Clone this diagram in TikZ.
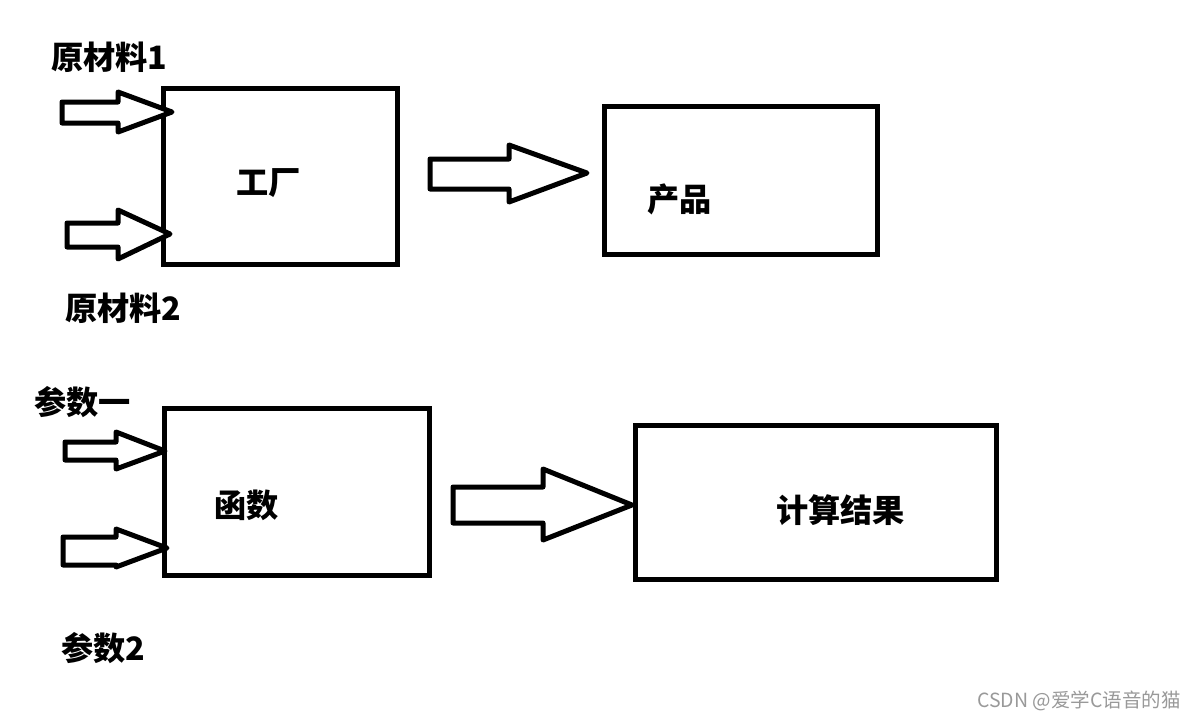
\documentclass[tikz,border=0pt]{standalone}
\usepackage{fontspec}
\newfontfamily\cjk{Noto Sans CJK SC}
\begin{document}
\begin{tikzpicture}[x=1pt,y=-1pt,
  box/.style={draw=black,line width=5pt},
  barrow/.style={draw=black,line width=5pt,line join=round,fill=white},
  lbl/.style={anchor=west,inner sep=0pt,font=\cjk\bfseries\fontsize{32.2}{37}\selectfont},
  wm/.style={anchor=west,inner sep=0pt,text=black!40,font=\cjk\fontsize{19.5}{23}\selectfont}]
\useasboundingbox[fill=white] (0,0) rectangle (1194,720);
% boxes
\draw[box] (163,88) rectangle (397,264);
\draw[box] (604,106) rectangle (877,254);
\draw[box] (164,408) rectangle (429,575);
\draw[box] (635,425) rectangle (996,579);
% block arrows
\draw[barrow] (62,102) -- (118,102) -- (118,92) -- (172,112) -- (118,132) -- (118,123) -- (62,123) -- cycle;
\draw[barrow] (67,223) -- (118,223) -- (118,210) -- (170,234) -- (118,259) -- (118,247) -- (67,247) -- cycle;
\draw[barrow] (430,159) -- (509,159) -- (509,145) -- (587,173) -- (509,202) -- (509,189) -- (430,189) -- cycle;
\draw[barrow] (453,487) -- (543,487) -- (543,469) -- (632,505) -- (543,540) -- (543,523) -- (453,523) -- cycle;
\draw[barrow] (65,442) -- (116,442) -- (116,432) -- (165,451) -- (116,469) -- (116,460) -- (65,460) -- cycle;
\draw[barrow] (63,537) -- (116,537) -- (116,529) -- (167,548) -- (116,567) -- (116,565) -- (63,565) -- cycle;
% labels
\node[lbl] (m1) at (51,57) {原材料1};
\node[lbl] (fac) at (236,183) {工厂};
\node[lbl] (prod) at (647,199) {产品};
\node[lbl] (m2) at (65,308) {原材料2};
\node[lbl] (p1) at (34,402) {参数一};
\node[lbl] (fun) at (214,505) {函数};
\node[lbl] (res) at (776,510) {计算结果};
\node[lbl] (p2) at (61,648) {参数2};
\node[wm] (wmk) at (977,701) {CSDN @爱学C语音的猫};
\end{tikzpicture}
\end{document}
